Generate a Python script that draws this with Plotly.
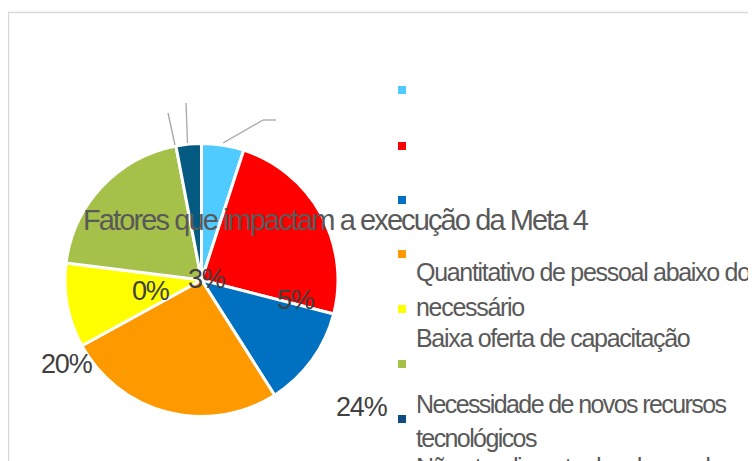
import plotly.graph_objects as go

# ---- data ----
categories = [
    "Fator A",
    "Fator B",
    "Fator C",
    "Quantitativo de pessoal abaixo do necessário",
    "Baixa oferta de capacitação",
    "Fator F",
    "Necessidade de novos recursos tecnológicos",
    "Não atendimento das demandas no Plano",
]
values = [5, 24, 12, 26, 10, 20, 3, 0]
colors = ["#4FCBFF", "#FF0000", "#0070C0", "#FF9900", "#FFFF00", "#A6C14A", "#045A80", "#7F7F7F"]
legend_colors = ["#4FCBFF", "#FF0000", "#0070C0", "#FF9900", "#FFFF00", "#A6C14A", "#0F4C81"]
pct_labels = ["3%", "0%", "5%", "20%", "24%"]
title_text = "Fatores que impactam a execução da Meta 4"

# page body has an 8px margin: figure occupies the rest of the 756x461 window
OFF = 8
W, H = 756 - OFF, 461 - OFF
FONT = "Liberation Sans, Arial, sans-serif"
TXT = "#595959"

def px(x):
    return (x - OFF) / W

def py(y):
    return 1 - (y - OFF) / H

cx, cy, r = 201.5, 280, 136.5

fig = go.Figure()
fig.add_trace(go.Pie(
    labels=categories,
    values=values,
    sort=False,
    direction="clockwise",
    rotation=0,
    marker=dict(colors=colors, line=dict(color="white", width=3)),
    textinfo="none",
    hoverinfo="label+percent",
    showlegend=False,
    domain=dict(x=[px(cx - r), px(cx + r)], y=[py(cy + r), py(cy - r)]),
))

shapes = []
# chart border
shapes.append(dict(type="rect", xref="paper", yref="paper",
                   x0=px(8.5), x1=px(780), y0=py(480), y1=py(12.5),
                   line=dict(color="#D9D9D9", width=1.5), layer="below"))
# leader lines
for pts in [[(223, 143), (263, 120), (276, 120)], [(175, 145), (168, 113)], [(187.5, 143), (186, 103)]]:
    for (x0, y0), (x1, y1) in zip(pts[:-1], pts[1:]):
        shapes.append(dict(type="line", xref="paper", yref="paper",
                           x0=px(x0), y0=py(y0), x1=px(x1), y1=py(y1),
                           line=dict(color="#A6A6A6", width=1.3)))
# legend markers
leg_y = [90, 146, 200, 254, 309, 364, 419]
for c, yy in zip(legend_colors, leg_y):
    shapes.append(dict(type="rect", xref="paper", yref="paper",
                       x0=px(398), x1=px(406), y0=py(yy + 4), y1=py(yy - 4),
                       fillcolor=c, line=dict(width=0)))

annotations = []
def txt(x, y, s, size, anchor="left", color=TXT, ls=None):
    if ls is not None:
        s = '<span style="letter-spacing:%spx">%s</span>' % (ls, s)
    annotations.append(dict(x=px(x), y=py(y), xref="paper", yref="paper", text=s,
                            showarrow=False, xanchor=anchor, yanchor="middle",
                            font=dict(family=FONT, size=size, color=color)))

txt(335.5, 220, title_text, 29, anchor="center", ls=-1.9)
# legend texts (misplaced as in the original)
LS = -1.3
txt(414, 271.5, "Quantitativo de pessoal abaixo do", 25, ls=LS)
txt(414, 307, "necessário", 25, ls=LS)
txt(414, 337.5, "Baixa oferta de capacitação", 25, ls=LS)
txt(414, 404, "Necessidade de novos recursos", 25, ls=-1.6)
txt(414, 438, "tecnológicos", 25, ls=-1.6)
txt(414, 467, categories[7], 25, ls=-1.6)
# percentage labels
for s, (x, y) in zip(pct_labels, [(207, 279), (151, 291), (296, 299.5), (67, 364), (362, 407)]):
    txt(x, y, s, 27, anchor="center", color="#404040", ls=-1.2)

fig.update_layout(width=W, height=H, margin=dict(l=0, r=0, t=0, b=0),
                  paper_bgcolor="white", plot_bgcolor="white",
                  shapes=shapes, annotations=annotations)
fig.write_html("out.html")
